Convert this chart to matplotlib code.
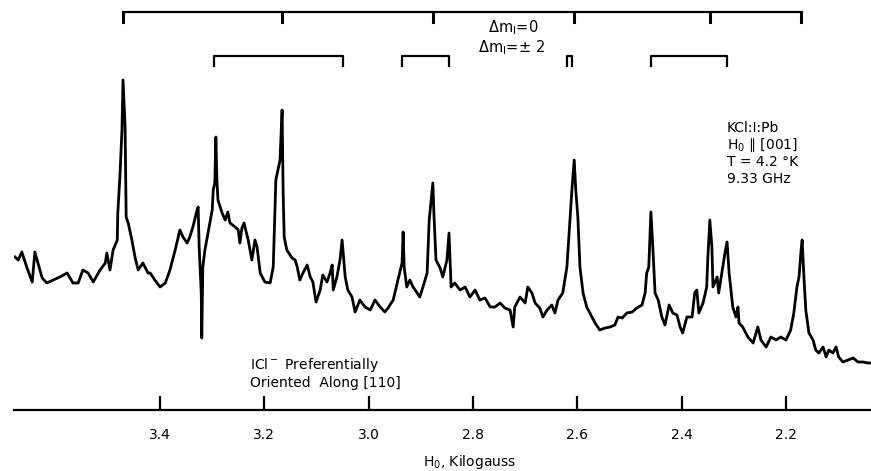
import matplotlib
matplotlib.use("Agg")
import matplotlib.pyplot as plt

# EPR trace (field in kG, signal in arbitrary units)
field = [3.678, 3.672, 3.665, 3.655, 3.645, 3.640, 3.634, 3.626, 3.617, 3.605,
         3.592, 3.578, 3.567, 3.557, 3.548, 3.538, 3.528, 3.515, 3.505, 3.502,
         3.496, 3.490, 3.482, 3.481, 3.477, 3.473, 3.471, 3.467, 3.465, 3.461,
         3.454, 3.448, 3.442, 3.433, 3.423,
         3.419, 3.410, 3.400, 3.390, 3.381, 3.371, 3.362, 3.356, 3.348, 3.343,
         3.337, 3.329, 3.327, 3.325, 3.321, 3.320, 3.318, 3.314, 3.308, 3.300,
         3.298, 3.295, 3.293, 3.291, 3.289, 3.281, 3.275, 3.270, 3.266, 3.256,
         3.250, 3.247, 3.243, 3.239, 3.231, 3.224, 3.218, 3.214, 3.208, 3.199,
         3.189, 3.183, 3.178, 3.174, 3.170, 3.166, 3.164, 3.162, 3.157, 3.147,
         3.141,
         3.137, 3.132, 3.126, 3.118, 3.112, 3.107, 3.101, 3.093, 3.088, 3.080,
         3.074, 3.070, 3.068, 3.061, 3.055, 3.051, 3.045, 3.040, 3.032, 3.026,
         3.017, 3.007, 2.997, 2.988, 2.978, 2.969, 2.963, 2.953, 2.944, 2.936,
         2.934, 2.932, 2.927, 2.921, 2.915, 2.907, 2.902, 2.896, 2.888, 2.884,
         2.879, 2.877, 2.875, 2.871, 2.863,
         2.858, 2.850, 2.846, 2.842, 2.835, 2.825, 2.815, 2.806, 2.796, 2.787,
         2.777, 2.767, 2.758, 2.748, 2.739, 2.729, 2.723, 2.720, 2.710, 2.700,
         2.695, 2.687, 2.681, 2.672, 2.666, 2.658, 2.649, 2.643, 2.637, 2.628,
         2.620, 2.614, 2.610, 2.606, 2.603, 2.599, 2.595, 2.589,
         2.582, 2.576, 2.566, 2.557, 2.547, 2.537, 2.528, 2.522, 2.514, 2.505,
         2.495, 2.486, 2.476, 2.470, 2.467, 2.463, 2.459, 2.455, 2.451, 2.445,
         2.438, 2.432, 2.424, 2.417, 2.409, 2.403, 2.398, 2.390, 2.380, 2.375,
         2.371, 2.367, 2.359, 2.352, 2.350, 2.346, 2.342, 2.340, 2.332, 2.329,
         2.323, 2.317, 2.313, 2.309,
         2.302, 2.296, 2.292, 2.290, 2.283, 2.273, 2.263, 2.254, 2.248, 2.238,
         2.229, 2.219, 2.210, 2.200, 2.191, 2.185, 2.179, 2.175, 2.171, 2.169,
         2.166, 2.162, 2.156, 2.148, 2.143, 2.137, 2.129, 2.123, 2.118, 2.110,
         2.104, 2.099, 2.091, 2.081, 2.071, 2.062, 2.052, 2.043, 2.037]

signal = [153, 150, 158, 142, 128, 158, 147, 132, 127, 130,
          133, 137, 127, 127, 140, 137, 128, 140, 147, 157,
          140, 160, 170, 197, 233, 280, 330, 283, 193, 187,
          170, 153, 140, 147, 137,
          137, 130, 123, 127, 140, 160, 180, 173, 167, 173,
          183, 200, 203, 163, 117, 72, 143, 160, 177, 200,
          220, 227, 273, 230, 210, 197, 190, 198, 187, 183,
          180, 167, 182, 187, 170, 150, 170, 163, 137, 128,
          127, 143, 230, 240, 250, 300, 217, 173, 160, 152,
          150,
          143, 130, 137, 145, 133, 128, 108, 120, 135, 128,
          137, 145, 120, 133, 150, 170, 133, 120, 113, 98,
          110, 103, 100, 110, 103, 98, 102, 110, 130, 147,
          178, 143, 123, 130, 123, 117, 113, 123, 137, 190,
          217, 227, 197, 150, 142,
          133, 150, 177, 123, 127, 120, 123, 113, 120, 110,
          112, 103, 103, 107, 102, 100, 83, 103, 113, 107,
          123, 117, 107, 102, 93, 100, 105, 97, 110, 117,
          143, 190, 223, 250, 220, 193, 143, 117,
          103, 97, 87, 80, 82, 83, 85, 93, 92, 97,
          98, 102, 105, 117, 137, 143, 198, 160, 117, 110,
          93, 85, 105, 97, 95, 83, 77, 93, 93, 117,
          120, 97, 107, 123, 150, 190, 163, 123, 133, 117,
          137, 157, 168, 137,
          103, 93, 103, 87, 83, 73, 67, 83, 70, 63,
          73, 70, 73, 70, 80, 97, 123, 133, 160, 170,
          137, 100, 77, 70, 60, 57, 63, 53, 60, 57,
          63, 53, 48, 50, 52, 48, 48, 47, 47]

tick_fields = [3.4, 3.2, 3.0, 2.8, 2.6, 2.4, 2.2]
tick_labels = ["3.4", "3.2", "3.0", "2.8", "2.6", "2.4", "2.2"]

# line positions marked by the stick diagrams above the trace
dm0_lines = [3.471, 3.166, 2.877, 2.606, 2.346, 2.171]
dm2_pairs = [(3.297, 3.049), (2.936, 2.846), (2.620, 2.610), (2.459, 2.313)]

sample_info = ["KCl:I:Pb", "H$_0$ ∥ [001]", "T = 4.2 °K", "9.33 GHz"]

fig = plt.figure(figsize=(8.71, 4.71), dpi=100)
ax = fig.add_axes([14 / 871, 0, 857 / 871, 1])

ax.plot(field, signal, color="black", lw=2.0, solid_joinstyle="round")

ax.set_xlim(3.680, 2.037)
ax.set_ylim(-61, 410)

for s in ["top", "left", "right"]:
    ax.spines[s].set_visible(False)
ax.spines["bottom"].set_position(("data", 0))
ax.spines["bottom"].set_linewidth(1.6)
ax.set_yticks([])
ax.set_xticks(tick_fields)
ax.set_xticklabels(tick_labels)
ax.tick_params(axis="x", direction="in", length=10, width=1.6, pad=13, labelsize=10)

ax.text(2.806, -52, "H$_0$, Kilogauss", ha="center", va="center", fontsize=10)

# delta m = 0 stick diagram
ax.plot([dm0_lines[0], dm0_lines[-1]], [398, 398], color="black", lw=1.6)
for f in dm0_lines:
    ax.plot([f, f], [398, 388], color="black", lw=2.2)

# delta m = +-2 pairs
for a, b in dm2_pairs:
    ax.plot([a, a, b, b], [344, 354, 354, 344], color="black", lw=1.6)

ax.text(2.723, 382, r"Δm$_{\mathrm{I}}$=0", ha="center", va="center", fontsize=10.5)
ax.text(2.727, 362, r"Δm$_{\mathrm{I}}$=± 2", ha="center", va="center", fontsize=10.5)

for i, line in enumerate(sample_info):
    ax.text(2.313, 282 - i * 17, line, ha="left", va="center", fontsize=10)

ax.text(3.227, 45, "ICl$^-$ Preferentially", ha="left", va="center", fontsize=10)
ax.text(3.227, 27, "Oriented  Along [110]", ha="left", va="center", fontsize=10)

fig.savefig("out.png", dpi=100)
